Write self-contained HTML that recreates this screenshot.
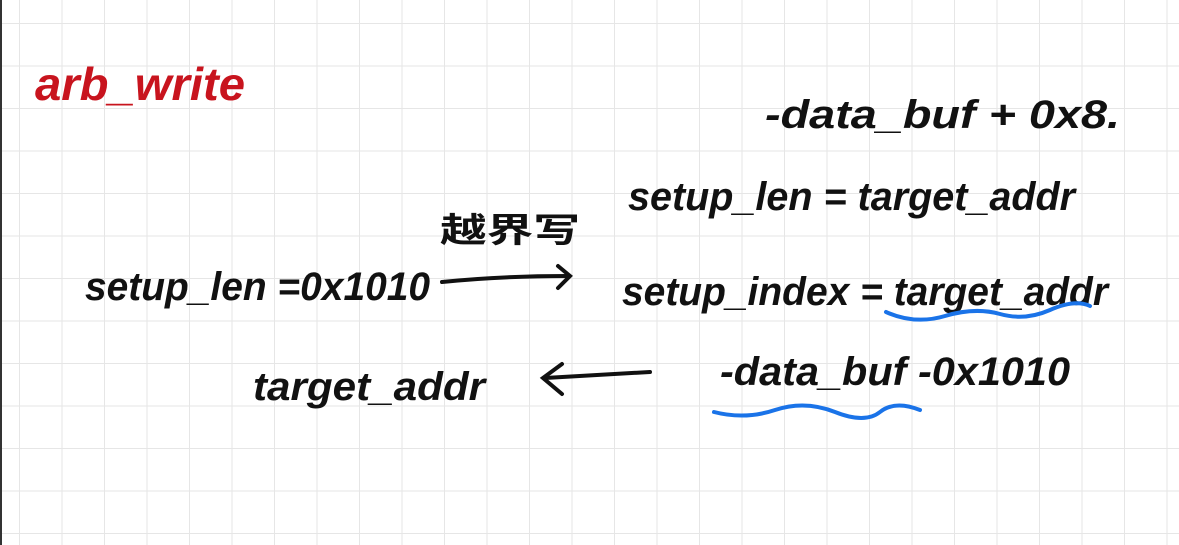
<!DOCTYPE html>
<html><head><meta charset="utf-8"><style>
html,body{margin:0;padding:0;background:#fff;width:1179px;height:545px;overflow:hidden}
</style></head><body>
<svg width="1179" height="545" xmlns="http://www.w3.org/2000/svg">
<defs>
<pattern id="g" x="19" y="23" width="42.5" height="42.5" patternUnits="userSpaceOnUse">
<path d="M0 0V42.5M0 0H42.5" stroke="#e6e6e6" stroke-width="2" fill="none"/>
</pattern>
</defs>
<rect width="1179" height="545" fill="url(#g)"/>
<rect x="0" y="0" width="2" height="545" fill="#333"/>
<g font-family="Liberation Sans, Noto Sans CJK SC, sans-serif" font-style="italic" font-weight="bold" fill="#111">
<text x="35" y="100" font-size="46" fill="#c8141e" textLength="210" lengthAdjust="spacingAndGlyphs">arb_write</text>
<text x="765" y="128" font-size="40" textLength="355" lengthAdjust="spacingAndGlyphs">-data_buf + 0x8.</text>
<text x="628" y="210" font-size="40" textLength="447" lengthAdjust="spacingAndGlyphs">setup_len = target_addr</text>
<text x="440" y="242" font-size="34" font-style="normal" textLength="140" lengthAdjust="spacingAndGlyphs">越界写</text>
<text x="85" y="300" font-size="40" textLength="345" lengthAdjust="spacingAndGlyphs">setup_len =0x1010</text>
<text x="622" y="305" font-size="40" textLength="486" lengthAdjust="spacingAndGlyphs">setup_index = target_addr</text>
<text x="253" y="400" font-size="40" textLength="232" lengthAdjust="spacingAndGlyphs">target_addr</text>
<text x="720" y="385" font-size="40" textLength="350" lengthAdjust="spacingAndGlyphs">-data_buf -0x1010</text>
</g>
<g stroke="#111" stroke-width="4" fill="none" stroke-linecap="round">
<path d="M442 282 Q500 276 568 276"/>
<path d="M558 266 L570 276 L558 288"/>
<path d="M650 372 L545 378"/>
<path d="M562 364 L543 378 L562 394"/>
</g>
<g stroke="#1a73e8" stroke-width="4" fill="none" stroke-linecap="round">
<path d="M886 312 Q915 325 945 316 T1000 314 T1050 310 T1090 306"/>
<path d="M714 412 Q745 420 775 410 T835 412 T880 412 T920 410"/>
</g>
</svg>
</body></html>
